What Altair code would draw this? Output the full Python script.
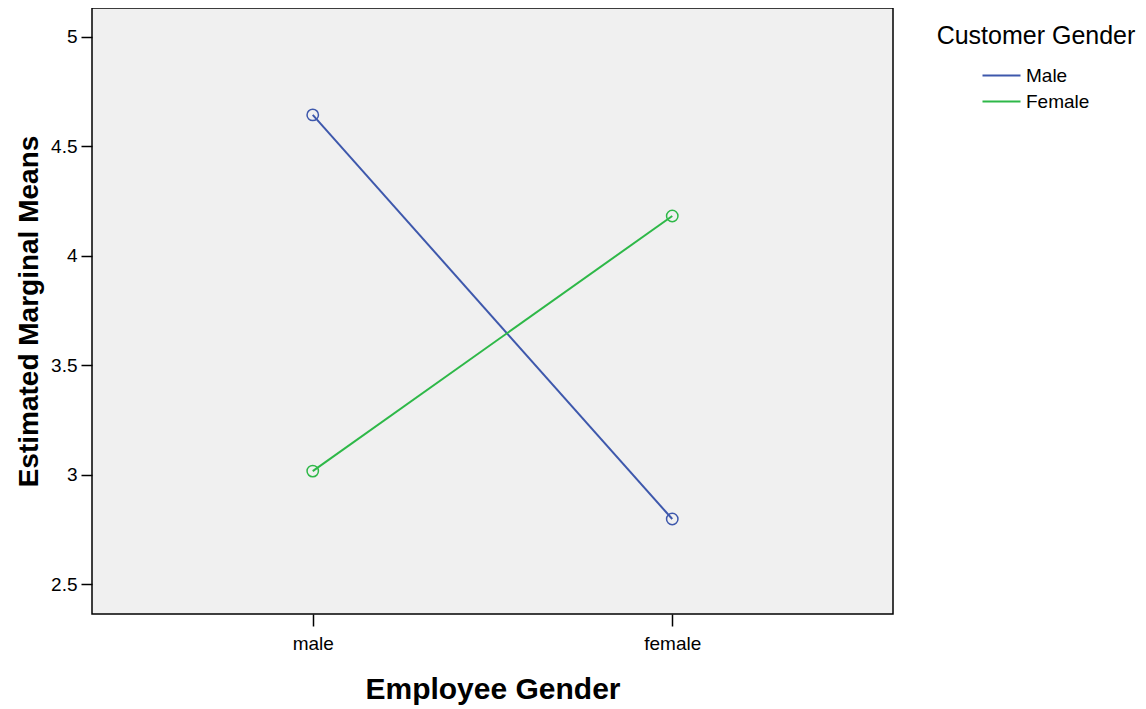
import altair as alt
import pandas as pd

employee_gender = ["male", "female"]
customer_gender = ["Male", "Female"]
means_male_customer = [4.644, 2.797]
means_female_customer = [3.016, 4.182]

rows = []
for i, eg in enumerate(employee_gender):
    rows.append({"Employee Gender": eg, "Customer Gender": "Male", "mean": means_male_customer[i]})
    rows.append({"Employee Gender": eg, "Customer Gender": "Female", "mean": means_female_customer[i]})
df = pd.DataFrame(rows)

colors = ["#3e58ac", "#2eb848"]
FONT = "Liberation Sans"

x = alt.X("Employee Gender:N", sort=employee_gender,
          scale=alt.Scale(type="point", padding=0.614),
          axis=alt.Axis(title="Employee Gender", labelAngle=0, tickSize=12, tickWidth=1.5,
                        tickColor="black", labelFontSize=19, labelPadding=8,
                        titleFontSize=30, titleFontWeight="bold", titlePadding=21,
                        domain=False, labelColor="black", titleColor="black"))
y = alt.Y("mean:Q", scale=alt.Scale(domain=[2.363, 5.1325], nice=False, zero=False),
          axis=alt.Axis(title="Estimated Marginal Means", values=[2.5, 3, 3.5, 4, 4.5, 5],
                        format=".1~f", tickSize=11, tickWidth=1.5, tickColor="black",
                        labelFontSize=19, labelPadding=4, titleFontSize=28,
                        titleFontWeight="bold", titlePadding=7, domain=False, grid=False,
                        labelColor="black", titleColor="black"))

base = alt.Chart(df)
lines = base.mark_line(strokeWidth=2).encode(
    x=x, y=y, detail="Customer Gender:N",
    color=alt.Color("Customer Gender:N", sort=customer_gender,
                    scale=alt.Scale(domain=customer_gender, range=colors),
                    legend=alt.Legend(title="Customer Gender", orient="none",
                                      legendX=845, legendY=16,
                                      symbolType="M-2,0H2", symbolSize=361, symbolOffset=8,
                                      symbolStrokeWidth=2, labelOffset=14,
                                      labelFontSize=19, titleFontSize=25, titleLimit=400,
                                      labelLimit=300,
                                      titleFontWeight="normal", titleAnchor="middle",
                                      titlePadding=16, rowPadding=5, padding=0,
                                      labelColor="black", titleColor="black")))
points = base.mark_point(shape="circle", size=130, strokeWidth=1.5, filled=False, opacity=1).encode(
    x=x, y=y,
    color=alt.Color("Customer Gender:N", sort=customer_gender,
                    scale=alt.Scale(domain=customer_gender, range=colors), legend=None))

chart = alt.layer(lines, points).properties(
    width=801, height=606,
    autosize=alt.AutoSizeParams(type="none"),
    padding={"left": 84, "top": 0, "right": 245, "bottom": 95},
).configure(font=FONT).configure_view(
    fill="#f0f0f0", stroke="black", strokeWidth=1.5
).configure_axis(labelFont=FONT, titleFont=FONT).configure_legend(labelFont=FONT, titleFont=FONT)

chart.save("out.html", embed_options={"renderer": "svg", "actions": False})
